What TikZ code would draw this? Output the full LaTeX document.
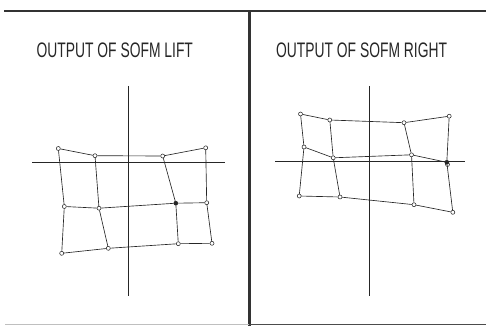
\documentclass[tikz,border=0pt]{standalone}
\usepackage{fontspec}
\setmainfont{Liberation Sans}
\begin{document}
\begin{tikzpicture}[x=1pt,y=-1pt,
  frame/.style={line width=2.8pt,color=black!80},
  axis/.style={line width=0.65pt,color=black!85},
  net/.style={line width=0.65pt,color=black!85},
  pt/.style={circle,draw=black!85,fill=white,line width=0.55pt,inner sep=0pt,minimum size=4pt},
  ptf/.style={circle,draw=black!85,fill=black!85,line width=0.55pt,inner sep=0pt,minimum size=4pt},
  ttl/.style={font=\fontsize{21}{21}\selectfont,xscale=0.66,color=black!85,anchor=base west,inner sep=0pt}]
\useasboundingbox (0,0) rectangle (486,326);
% frame
\draw[frame] (4,11) -- (486,11);
\draw[frame] (249.5,11) -- (249.5,326);
\draw[line width=1.2pt,color=black!25] (5,324.5) -- (249,324.5);
\draw[line width=1.6pt,color=black!70] (249,324.5) -- (486,324.5);
% titles
\node[ttl] (t1) at (36.5,58) {OUTPUT OF SOFM LIFT};
\node[ttl] (t2) at (276,57.5) {OUTPUT OF SOFM RIGHT};
% left axes
\coordinate (lh1) at (32,162.3);
\coordinate (lh2) at (225,162.3);
\coordinate (lv1) at (128.3,86);
\coordinate (lv2) at (128.3,296);
\draw[axis] (lh1) -- (lh2);
\draw[axis] (lv1) -- (lv2);
% left net
\node[pt] (a11) at (58.3,148.5) {};
\node[pt] (a12) at (95,155.7) {};
\node[pt] (a13) at (162.7,156) {};
\node[pt] (a14) at (205.7,147.8) {};
\node[pt] (a21) at (64.3,206.5) {};
\node[pt] (a22) at (99,208.2) {};
\node[ptf] (a23) at (175.8,203.2) {};
\node[pt] (a24) at (206.7,202.7) {};
\node[pt] (a31) at (61.7,253.3) {};
\node[pt] (a32) at (108.3,248.3) {};
\node[pt] (a33) at (178.3,243.7) {};
\node[pt] (a34) at (212,243.3) {};
\draw[net] (a11) -- (a12) -- (a13) -- (a14);
\draw[net] (a21) -- (a22) -- (a23) -- (a24);
\draw[net] (a31) -- (a32) -- (a33) -- (a34);
\draw[net] (a11) -- (a21) -- (a31);
\draw[net] (a12) -- (a22) -- (a32);
\draw[net] (a13) -- (a23) -- (a33);
\draw[net] (a14) -- (a24) -- (a34);
% right axes
\coordinate (rh1) at (275,161.8);
\coordinate (rh2) at (465,161.8);
\coordinate (rv1) at (369.2,86);
\coordinate (rv2) at (369.2,296);
\draw[axis] (rh1) -- (rh2);
\draw[axis] (rv1) -- (rv2);
% right net
\node[pt] (b11) at (300.5,114) {};
\node[pt] (b12) at (329.8,120) {};
\node[pt] (b13) at (404,122.7) {};
\node[pt] (b14) at (449.2,116.2) {};
\node[pt] (b21) at (304,147) {};
\node[pt] (b22) at (333.2,157.8) {};
\node[pt] (b23) at (411.5,154.8) {};
\node[pt] (b24x) at (447.5,164.5) {};
\node[ptf] (b24) at (446.8,162.3) {};
\node[pt] (b31) at (299.2,196) {};
\node[pt] (b32) at (340,197) {};
\node[pt] (b33) at (414,204.7) {};
\node[pt] (b34) at (452.8,212.3) {};
\draw[net] (b11) -- (b12) -- (b13) -- (b14);
\draw[net] (b21) -- (b22) -- (b23) -- (b24);
\draw[net] (b31) -- (b32) -- (b33) -- (b34);
\draw[net] (b11) -- (b21) -- (b31);
\draw[net] (b12) -- (b22) -- (b32);
\draw[net] (b13) -- (b23) -- (b33);
\draw[net] (b14) -- (b24) -- (b34);
\end{tikzpicture}
\end{document}
